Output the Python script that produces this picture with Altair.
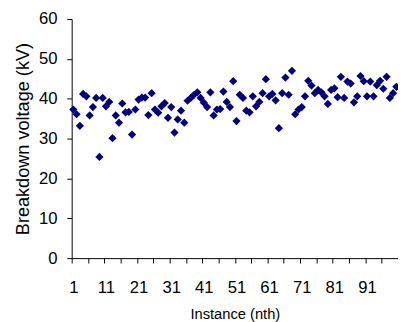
import altair as alt
import pandas as pd

voltage = [37.3, 36.1, 33.2, 41.2, 40.6, 35.8, 37.9, 40.2, 25.4, 40.2,
           38.1, 39.2, 30.1, 35.8, 34.0, 38.8, 36.6, 36.7, 31.0, 37.3,
           39.8, 40.3, 40.3, 35.9, 41.4, 37.3, 36.5, 38.1, 38.9, 35.2,
           37.9, 31.5, 34.8, 37.0, 34.0, 39.5, 40.2, 41.0, 41.6, 40.2,
           39.0, 37.9, 41.6, 35.8, 37.3, 37.4, 41.8, 39.2, 37.9, 44.4,
           34.4, 41.0, 40.2, 37.0, 36.6, 40.6, 38.1, 39.2, 41.4, 44.9,
           40.6, 41.2, 39.6, 32.6, 41.4, 45.3, 41.0, 47.0, 36.1, 37.3,
           37.9, 40.6, 44.5, 43.3, 41.4, 42.2, 41.6, 40.6, 38.7, 42.2,
           42.6, 40.4, 45.5, 40.2, 44.3, 43.8, 39.1, 40.6, 45.7, 44.4,
           40.6, 44.3, 40.6, 43.4, 44.5, 42.5, 45.5, 40.2, 41.4, 43.0]
instance = list(range(1, len(voltage) + 1))
x_labels = [1, 11, 21, 31, 41, 51, 61, 71, 81, 91]
x_ticks = [0.5 + 5 * k for k in range(21)]
y_ticks = [0, 10, 20, 30, 40, 50, 60]

df = pd.DataFrame({"instance": instance, "voltage": voltage})

FONT = "Liberation Sans"
xscale = alt.Scale(domain=[0.5, 100.5], nice=False, zero=False)
yscale = alt.Scale(domain=[0, 60], nice=False)

y_axis = alt.Axis(values=y_ticks, grid=False, tickSize=5, tickColor="black",
                  domainColor="black", labelFontSize=17, labelFont=FONT,
                  labelColor="black", labelPadding=10,
                  title="Breakdown voltage (kV)", titleFont=FONT,
                  titleFontSize=18.5, titleFontWeight="normal",
                  titleColor="black", titleAngle=-90,
                  titleBaseline="alphabetic", titleAlign="center",
                  titleX=-44, titleY=122)

points = alt.Chart(df).mark_point(
    shape="diamond", filled=True, size=70, color="#000080", opacity=1
).encode(
    x=alt.X("instance:Q", scale=xscale,
            axis=alt.Axis(values=x_labels, ticks=False, domain=False, grid=False,
                          labelFontSize=17, labelFont=FONT, labelColor="black",
                          labelPadding=22, labelBaseline="top",
                          title="Instance (nth)", titleFont=FONT, titleFontSize=15,
                          titleFontWeight="normal", titleColor="black",
                          titleBaseline="alphabetic", titleY=62, orient="bottom")),
    y=alt.Y("voltage:Q", scale=yscale, axis=y_axis),
)

ticks_layer = alt.Chart(df).mark_point(opacity=0).encode(
    x=alt.X("instance:Q", scale=xscale,
            axis=alt.Axis(values=x_ticks, labels=False, ticks=True, tickSize=5,
                          tickColor="black", domainColor="black", grid=False,
                          title=None, orient="bottom")),
    y=alt.Y("voltage:Q", scale=yscale, axis=y_axis),
)

chart = alt.layer(ticks_layer, points).resolve_axis(x="independent").properties(
    width=333, height=244,
    autosize=alt.AutoSizeParams(type="none"),
    padding={"left": 65, "top": 8, "right": 0, "bottom": 66},
).configure_view(stroke=None)

chart.save("out.html", embed_options={"renderer": "svg", "actions": False})
